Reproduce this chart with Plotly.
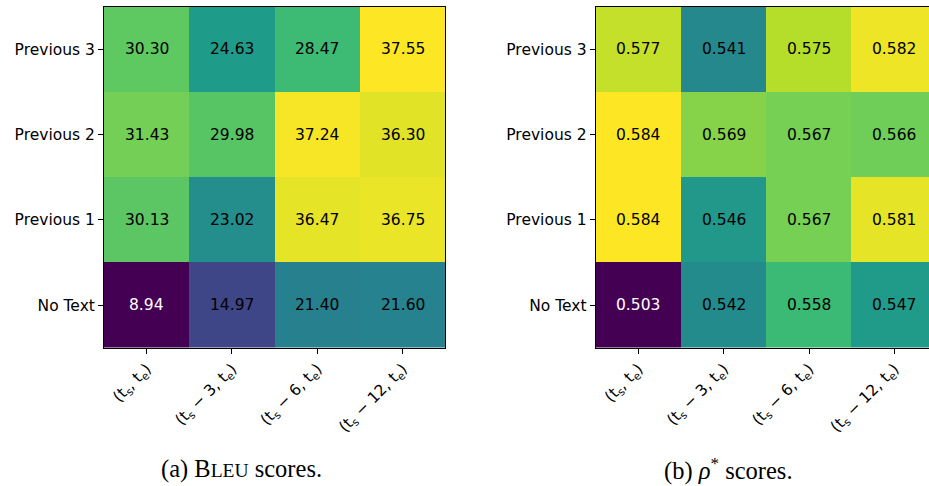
import plotly.graph_objects as go

# ---- data ----
rows = ["No Text", "Previous 1", "Previous 2", "Previous 3"]  # bottom -> top
cols = ["(t<sub>s</sub>, t<sub>e</sub>)",
        "(t<sub>s</sub> − 3, t<sub>e</sub>)",
        "(t<sub>s</sub> − 6, t<sub>e</sub>)",
        "(t<sub>s</sub> − 12, t<sub>e</sub>)"]

bleu_no_text = [8.94, 14.97, 21.40, 21.60]
bleu_prev1 = [30.13, 23.02, 36.47, 36.75]
bleu_prev2 = [31.43, 29.98, 37.24, 36.30]
bleu_prev3 = [30.30, 24.63, 28.47, 37.55]

rho_no_text = [0.503, 0.542, 0.558, 0.547]
rho_prev1 = [0.584, 0.546, 0.567, 0.581]
rho_prev2 = [0.584, 0.569, 0.567, 0.566]
rho_prev3 = [0.577, 0.541, 0.575, 0.582]

bleu = [bleu_no_text, bleu_prev1, bleu_prev2, bleu_prev3]
rho = [rho_no_text, rho_prev1, rho_prev2, rho_prev3]

W, H = 929, 486
FONT = "DejaVu Sans"

# pixel geometry
L1, R1 = 104.0, 445.3
L2 = 595.7
CELL = (R1 - L1) / 4
TOP, BOT = 6.7, 347.7

fig = go.Figure()
fig.add_trace(go.Heatmap(z=bleu, x=cols, y=rows, colorscale="Viridis",
                         showscale=False, xaxis="x", yaxis="y", hoverinfo="z"))
fig.add_trace(go.Heatmap(z=rho, x=cols, y=rows, colorscale="Viridis",
                         showscale=False, xaxis="x2", yaxis="y2", hoverinfo="z"))

annotations = []
for data, fmt, xr, yr in [(bleu, "{:.2f}", "x", "y"), (rho, "{:.3f}", "x2", "y2")]:
    flat = [v for r in data for v in r]
    lo, hi = min(flat), max(flat)
    for i, r in enumerate(data):
        for j, v in enumerate(r):
            n = (v - lo) / (hi - lo)
            annotations.append(dict(x=cols[j], y=rows[i], xref=xr, yref=yr,
                                    text=fmt.format(v), showarrow=False,
                                    font=dict(family=FONT, size=15.5,
                                              color="white" if n < 0.1 else "black")))

annotations.append(dict(x=241 / W, y=(H - 469) / H, xref="paper", yref="paper",
                        xanchor="center", yanchor="middle",
                        text="(a) B<span style='font-size:19.5px'>LEU</span> scores.",
                        showarrow=False,
                        font=dict(family="Liberation Serif", size=24.5, color="black")))
annotations.append(dict(x=728 / W, y=(H - 469) / H, xref="paper", yref="paper",
                        xanchor="center", yanchor="middle",
                        text="(b) <i>ρ</i><sup>*</sup> scores.",
                        showarrow=False,
                        font=dict(family="Liberation Serif", size=24.5, color="black")))

ydom = [(H - BOT) / H, (H - TOP) / H]
axis_common = dict(showgrid=False, zeroline=False, ticks="outside", ticklen=5,
                   tickwidth=1, tickcolor="black", linecolor="black", linewidth=1,
                   tickfont=dict(family=FONT, size=15.5, color="black"))

fig.update_layout(
    width=W, height=H,
    margin=dict(l=0, r=0, t=0, b=0),
    paper_bgcolor="white", plot_bgcolor="white",
    xaxis=dict(domain=[L1 / W, R1 / W], range=[-0.5, 3.5], type="category",
               tickangle=-45, showline=True, mirror=True, **axis_common),
    yaxis=dict(domain=ydom, range=[-0.5, 3.5], type="category",
               showline=True, mirror=True, **axis_common),
    xaxis2=dict(domain=[L2 / W, 1.0], range=[-0.5, -0.5 + (W - L2) / CELL],
                type="category", tickangle=-45, showline=True, mirror=True,
                anchor="y2", **axis_common),
    yaxis2=dict(domain=ydom, range=[-0.5, 3.5], type="category",
                showline=True, mirror=False, anchor="x2", **axis_common),
    annotations=annotations,
    showlegend=False,
)

fig.write_html("out.html",
               config={"displayModeBar": False},
               post_script="document.body.style.margin='0';"
                           "document.body.style.overflow='hidden';")
